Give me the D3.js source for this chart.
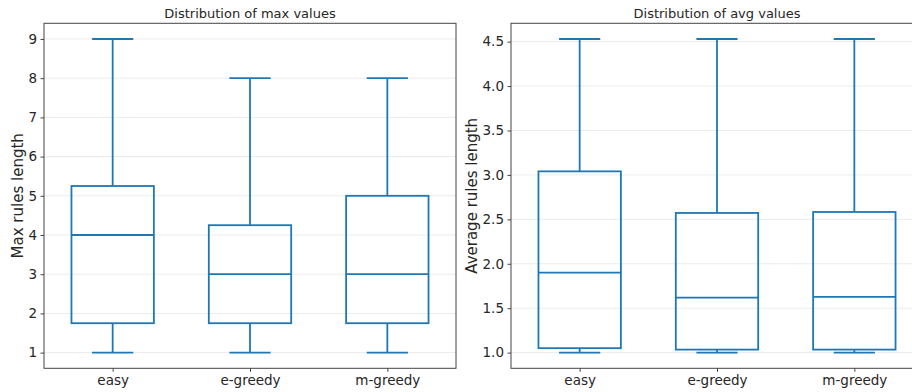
<!DOCTYPE html>
<html>
<head>
<meta charset="utf-8">
<script src="https://cdn.jsdelivr.net/npm/d3@7"></script>
<style>
  body { margin: 0; background: #fff; }
  svg { font-family: "DejaVu Sans", sans-serif; }
  .tick text { fill: #262626; font-size: 13.5px; font-family: "DejaVu Sans", sans-serif; }
  .tick line { stroke: #444; }
  .domain { display: none; }
</style>
</head>
<body>
<div id="chart"></div>
<script>
// categories
var categories = ['easy', 'e-greedy', 'm-greedy'];

// max values: [whisker low, q1, median, q3, whisker high]
var maxStats = [
  [1, 1.75, 4, 5.25, 9],
  [1, 1.75, 3, 4.25, 8],
  [1, 1.75, 3, 5, 8]
];

// avg values
var avgStats = [
  [1, 1.05, 1.9, 3.04, 4.53],
  [1, 1.034, 1.62, 2.572, 4.53],
  [1, 1.034, 1.627, 2.583, 4.53]
];

var maxTicks = [1, 2, 3, 4, 5, 6, 7, 8, 9];
var avgTicks = [1.0, 1.5, 2.0, 2.5, 3.0, 3.5, 4.0, 4.5];

var width = 912, height = 392;
var color = '#1f77b4';

var svg = d3.select('#chart').append('svg')
  .attr('width', width)
  .attr('height', height);

function drawPanel(opts){
  var left = opts.left, top = 23.3, w = 412, h = 345;

  var x = d3.scaleLinear().domain([0.5, 3.5]).range([left, left + w]);

  // matplotlib style 5% margins on the data range
  var lo = d3.min(opts.stats, function(d){ return d[0]; });
  var hi = d3.max(opts.stats, function(d){ return d[4]; });
  var pad = (hi - lo) * 0.05;
  var y = d3.scaleLinear().domain([lo - pad, hi + pad]).range([top + h, top]);

  var g = svg.append('g');

  // grid
  g.append('g').selectAll('line')
    .data(opts.ticks)
    .enter().append('line')
    .attr('x1', left).attr('x2', left + w)
    .attr('y1', function(d){ return y(d); })
    .attr('y2', function(d){ return y(d); })
    .attr('stroke', '#ebebeb')
    .attr('stroke-width', 1);

  // axes
  g.append('g')
    .attr('transform', 'translate(' + left + ',0)')
    .call(d3.axisLeft(y).tickValues(opts.ticks).tickSize(3.5).tickPadding(3.5).tickFormat(opts.fmt));

  g.append('g')
    .attr('transform', 'translate(0,' + (top + h) + ')')
    .call(d3.axisBottom(x).tickValues([1, 2, 3]).tickSize(3.5).tickPadding(4)
      .tickFormat(function(d){ return categories[d - 1]; }));

  // boxes
  var bw = 0.6, cw = 0.3;
  var boxes = g.append('g').selectAll('g')
    .data(opts.stats)
    .enter().append('g')
    .attr('fill', 'none')
    .attr('stroke', color)
    .attr('stroke-width', 1.8);

  boxes.append('line')
    .attr('x1', function(d, i){ return x(i + 1); })
    .attr('x2', function(d, i){ return x(i + 1); })
    .attr('y1', function(d){ return y(d[0]); })
    .attr('y2', function(d){ return y(d[1]); });

  boxes.append('line')
    .attr('x1', function(d, i){ return x(i + 1); })
    .attr('x2', function(d, i){ return x(i + 1); })
    .attr('y1', function(d){ return y(d[3]); })
    .attr('y2', function(d){ return y(d[4]); });

  [0, 4].forEach(function(k){
    boxes.append('line')
      .attr('x1', function(d, i){ return x(i + 1 - cw / 2); })
      .attr('x2', function(d, i){ return x(i + 1 + cw / 2); })
      .attr('y1', function(d){ return y(d[k]); })
      .attr('y2', function(d){ return y(d[k]); });
  });

  boxes.append('rect')
    .attr('x', function(d, i){ return x(i + 1 - bw / 2); })
    .attr('width', function(){ return x(1 + bw) - x(1); })
    .attr('y', function(d){ return y(d[3]); })
    .attr('height', function(d){ return y(d[1]) - y(d[3]); });

  boxes.append('line')
    .attr('x1', function(d, i){ return x(i + 1 - bw / 2); })
    .attr('x2', function(d, i){ return x(i + 1 + bw / 2); })
    .attr('y1', function(d){ return y(d[2]); })
    .attr('y2', function(d){ return y(d[2]); });

  // frame
  g.append('rect')
    .attr('x', left).attr('y', top)
    .attr('width', w).attr('height', h)
    .attr('fill', 'none')
    .attr('stroke', '#444')
    .attr('stroke-width', 1);

  // title
  g.append('text')
    .attr('x', left + w / 2).attr('y', 17.5)
    .attr('text-anchor', 'middle')
    .attr('font-size', 13)
    .attr('fill', '#262626')
    .text(opts.title);

  // y label
  g.append('text')
    .attr('transform', 'translate(' + opts.labelX + ',' + (top + h / 2) + ') rotate(-90)')
    .attr('text-anchor', 'middle')
    .attr('font-size', 15)
    .attr('fill', '#262626')
    .text(opts.ylabel);
}

drawPanel({
  left: 44, stats: maxStats, ticks: maxTicks,
  fmt: d3.format('d'),
  title: 'Distribution of max values',
  ylabel: 'Max rules length', labelX: 23
});

drawPanel({
  left: 511, stats: avgStats, ticks: avgTicks,
  fmt: d3.format('.1f'),
  title: 'Distribution of avg values',
  ylabel: 'Average rules length', labelX: 477
});
</script>
</body>
</html>
